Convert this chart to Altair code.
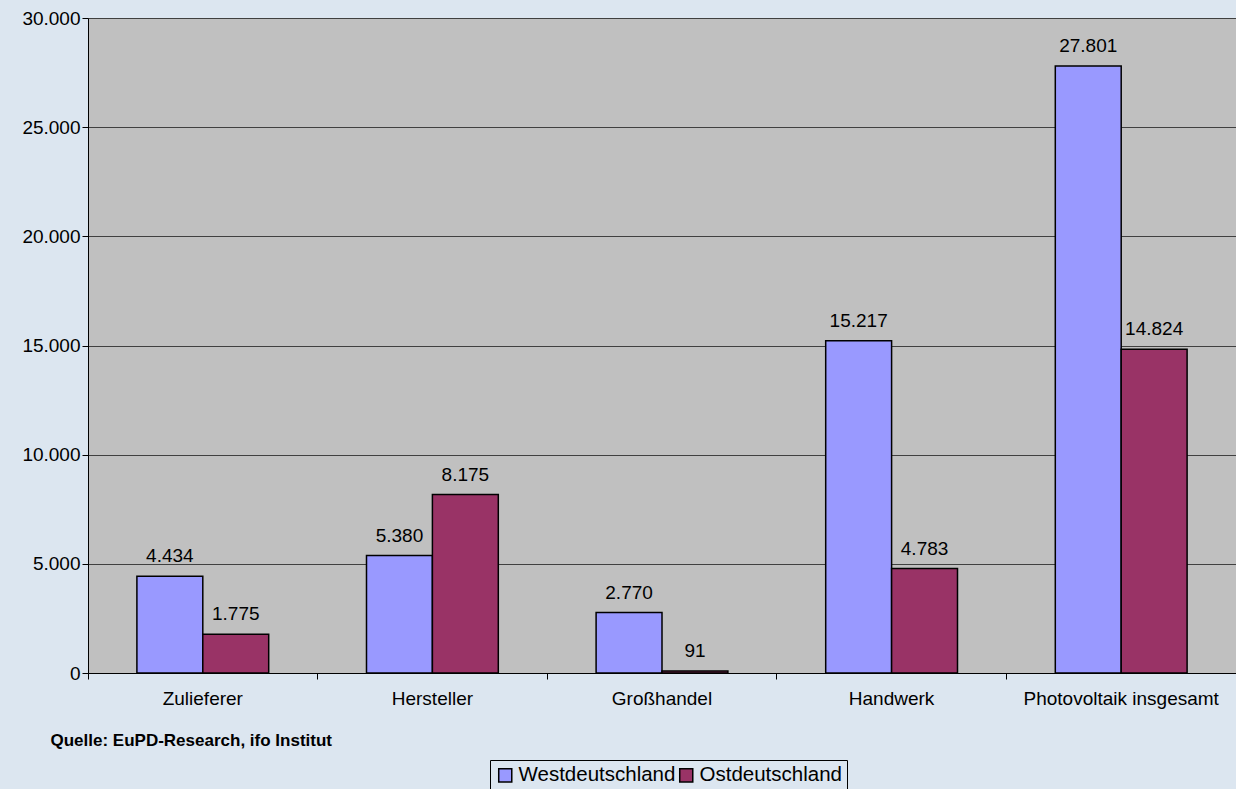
import altair as alt
import pandas as pd

categories = ["Zulieferer", "Hersteller", "Großhandel", "Handwerk", "Photovoltaik insgesamt"]
series = ["Westdeutschland", "Ostdeutschland"]
west = [4434, 5380, 2770, 15217, 27801]
ost = [1775, 8175, 91, 4783, 14824]
y_ticks = [0, 5000, 10000, 15000, 20000, 25000, 30000]
source = "Quelle: EuPD-Research, ifo Institut"

rows = []
for c, w, o in zip(categories, west, ost):
    rows.append({"Kategorie": c, "Region": series[0], "Wert": w})
    rows.append({"Kategorie": c, "Region": series[1], "Wert": o})
df = pd.DataFrame(rows)

W = 1148
H = 655
FONT = "Liberation Sans"

x = alt.X(
    "Kategorie:N",
    sort=categories,
    scale=alt.Scale(paddingInner=0, paddingOuter=0),
    axis=alt.Axis(
        title=source,
        titleFont=FONT,
        titleFontSize=17,
        titleFontWeight="bold",
        titleColor="black",
        titleAnchor="start",
        titleAlign="left",
        titleBaseline="middle",
        titleX=-38,
        titleY=67,
        labelAngle=0,
        labelLimit=0,
        bandPosition=0,
        tickSize=6,
        tickColor="black",
        domainColor="black",
        labelPadding=10,
        grid=False,
    ),
)
xo = alt.XOffset(
    "Region:N",
    sort=series,
    scale=alt.Scale(paddingInner=0, paddingOuter=0.742),
)
y = alt.Y(
    "Wert:Q",
    scale=alt.Scale(domain=[0, 30000], nice=False),
    axis=alt.Axis(
        title=None,
        values=y_ticks,
        format=",d",
        tickSize=6,
        tickColor="black",
        domainColor="black",
        gridColor="#404040",
        gridWidth=1,
        labelPadding=2,
    ),
)
color = alt.Color(
    "Region:N",
    sort=series,
    scale=alt.Scale(domain=series, range=["#9999ff", "#993366"]),
    legend=alt.Legend(
        title=None,
        orient="none",
        legendX=402,
        legendY=742,
        direction="horizontal",
        columns=2,
        columnPadding=0,
        labelOffset=3,
        symbolType="square",
        symbolSize=170,
        symbolStrokeColor="black",
        symbolStrokeWidth=1.5,
        symbolOpacity=1,
        labelFontSize=20.5,
        labelFont=FONT,
        labelColor="black",
        strokeColor="black",
        padding=5,
    ),
)

bars = alt.Chart(df).mark_bar(stroke="black", strokeWidth=1.5, opacity=1).encode(
    x=x, xOffset=xo, y=y, color=color
)
labels = alt.Chart(df).mark_text(
    dy=-20, baseline="middle", fontSize=19, font=FONT, color="black"
).encode(
    x=alt.X("Kategorie:N", sort=categories),
    xOffset=alt.XOffset("Region:N", sort=series),
    y=alt.Y("Wert:Q"),
    text=alt.Text("Wert:Q", format=",d"),
)

chart = (
    alt.layer(bars, labels)
    .properties(
        width=W,
        height=H,
        autosize=alt.AutoSizeParams(type="none"),
        padding={"left": 88, "top": 18, "right": 0, "bottom": 116},
        background="#dce6f0",
    )
    .configure(
        locale=alt.Locale(
            number=alt.NumberLocale(
                decimal=",", thousands=".", grouping=[3], currency=["", " €"]
            )
        )
    )
    .configure_view(fill="#c0c0c0", stroke=None)
    .configure_axis(labelFont=FONT, labelFontSize=19, labelColor="black")
)

chart.save("out.html", embed_options={"renderer": "svg", "actions": False})
